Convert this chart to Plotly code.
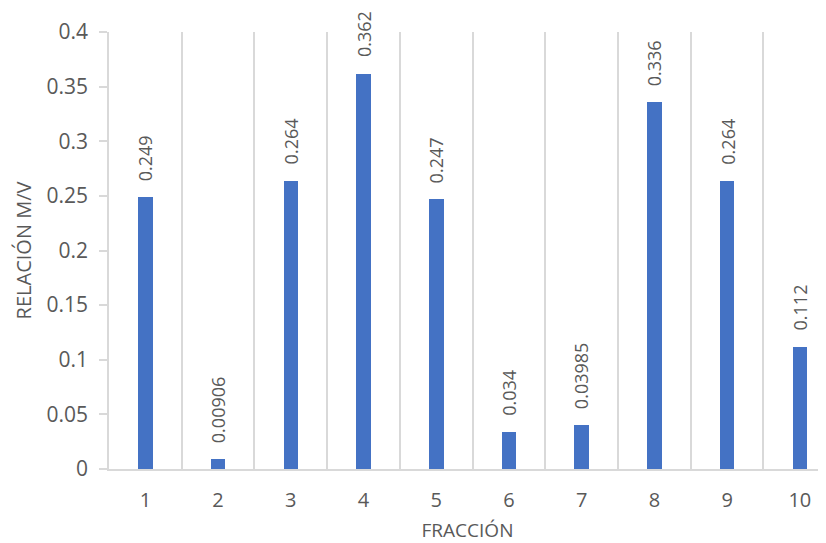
import plotly.graph_objects as go

categories = ["1", "2", "3", "4", "5", "6", "7", "8", "9", "10"]
values = [0.249, 0.00906, 0.264, 0.362, 0.247, 0.034, 0.03985, 0.336, 0.264, 0.112]
labels = ["0.249", "0.00906", "0.264", "0.362", "0.247", "0.034", "0.03985", "0.336", "0.264", "0.112"]
y_ticks = [0, 0.05, 0.1, 0.15, 0.2, 0.25, 0.3, 0.35, 0.4]
y_ticktext = ["0", "0.05", "0.1", "0.15", "0.2", "0.25", "0.3", "0.35", "0.4"]

FONT = "Open Sans"
GREY = "#595959"
LINE = "#d9d9d9"

fig = go.Figure()
fig.add_trace(go.Bar(
    x=categories, y=values,
    width=0.2,
    marker=dict(color="#4472C4", line=dict(width=0)),
    hoverinfo="x+y",
))

for i, (v, t) in enumerate(zip(values, labels)):
    fig.add_annotation(
        x=i, y=v, text=t, textangle=-90, showarrow=False,
        xanchor="center", yanchor="bottom", yshift=14,
        font=dict(family=FONT, size=18, color=GREY),
    )

# page body has an 8px margin, so the figure is offset by 8px
fig.update_layout(
    width=818, height=535,
    margin=dict(l=101, r=0, t=24, b=74),
    paper_bgcolor="white", plot_bgcolor="white",
    showlegend=False,
    bargap=0,
    font=dict(family=FONT, color=GREY),
    xaxis=dict(
        type="category",
        range=[-0.5, 9.36],
        tickson="boundaries",
        showgrid=True, gridcolor=LINE, gridwidth=1.5,
        showline=True, linecolor=LINE, linewidth=1.5,
        ticks="", ticklabelstandoff=12,
        tickfont=dict(family=FONT, size=20, color=GREY),
        title=dict(text="FRACCIÓN", font=dict(family=FONT, size=19, color=GREY), standoff=15),
        zeroline=False,
    ),
    yaxis=dict(
        range=[0, 0.4],
        tickvals=y_ticks, ticktext=y_ticktext,
        showgrid=False,
        showline=True, linecolor=LINE, linewidth=1.5,
        ticks="outside", ticklen=8, tickcolor=LINE, tickwidth=1.5,
        ticklabelstandoff=7,
        tickfont=dict(family=FONT, size=21, color=GREY),
        title=dict(text="RELACIÓN M/V", font=dict(family=FONT, size=20, color=GREY), standoff=10),
        zeroline=False,
    ),
)

fig.write_html("out.html")
